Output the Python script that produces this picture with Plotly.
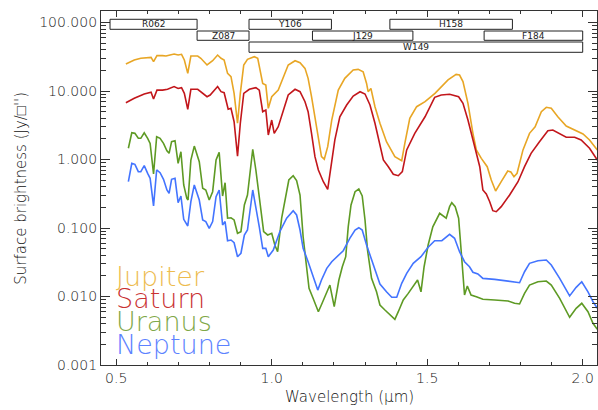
import plotly.graph_objects as go

# ---------------- data ----------------
jup_wl = [0.531, 0.558, 0.579, 0.612, 0.620, 0.631, 0.649, 0.660, 0.686, 0.699, 0.710, 0.719, 0.730,
          0.740, 0.762, 0.772, 0.792, 0.810, 0.826, 0.837, 0.847, 0.858, 0.869, 0.879, 0.890, 0.899,
          0.910, 0.922, 0.944, 0.955, 0.971, 0.981, 0.989, 1.000, 1.021, 1.037, 1.053, 1.075, 1.091,
          1.107, 1.117, 1.128, 1.144, 1.160, 1.169, 1.180, 1.193, 1.214, 1.235, 1.262, 1.278, 1.294,
          1.305, 1.310, 1.319, 1.332, 1.348, 1.369, 1.396, 1.418, 1.428, 1.444, 1.466, 1.493, 1.525,
          1.567, 1.593, 1.604, 1.615, 1.631, 1.647, 1.658, 1.674, 1.693, 1.706, 1.720, 1.738, 1.759,
          1.769, 1.779, 1.789, 1.808, 1.829, 1.847, 1.867, 1.883, 1.899, 1.920, 1.947, 1.974, 2.001,
          2.022, 2.047]
jup_val = [24.8, 28.4, 30.0, 31.0, 26.8, 32.8, 32.8, 32.4, 34.7, 33.5, 34.3, 28.4, 18.1,
           32.4, 32.4, 30.0, 24.0, 27.7, 33.5, 30.0, 28.4, 18.1, 16.2, 9.25, 3.38, 9.25,
           24.0, 29.0, 31.7, 30.0, 12.9, 12.2, 5.59, 8.26, 10.3, 16.2, 24.0, 27.7, 25.9,
           21.4, 15.3, 8.26, 3.01, 1.10, 1.01, 1.54, 3.77, 10.3, 15.3, 20.3, 20.7, 19.1,
           12.9, 9.77, 10.9, 5.90, 3.38, 1.82, 1.10, 0.96, 1.72, 3.99, 5.90, 6.98, 9.25,
           14.5, 17.5, 17.1, 13.7, 6.61, 2.41, 1.38, 1.04, 0.785, 0.502, 0.347, 0.474, 0.679,
           0.657, 0.561, 0.629, 1.38, 2.41, 3.01, 4.99, 5.78, 5.59, 4.21, 3.08, 2.70, 2.36,
           1.93, 1.38]

sat_wl = [0.531, 0.558, 0.590, 0.612, 0.620, 0.631, 0.649, 0.665, 0.686, 0.699, 0.710, 0.719, 0.730,
          0.740, 0.762, 0.772, 0.792, 0.802, 0.826, 0.837, 0.847, 0.860, 0.869, 0.879, 0.890, 0.899,
          0.910, 0.928, 0.949, 0.960, 0.971, 0.981, 0.989, 1.000, 1.008, 1.021, 1.037, 1.053, 1.075,
          1.091, 1.107, 1.117, 1.128, 1.139, 1.150, 1.166, 1.180, 1.193, 1.203, 1.219, 1.241, 1.262,
          1.284, 1.300, 1.316, 1.332, 1.342, 1.359, 1.375, 1.391, 1.407, 1.420, 1.434, 1.460, 1.493,
          1.524, 1.545, 1.572, 1.601, 1.615, 1.631, 1.652, 1.669, 1.679, 1.690, 1.701, 1.711, 1.722,
          1.738, 1.765, 1.792, 1.813, 1.834, 1.861, 1.888, 1.904, 1.926, 1.947, 1.974, 1.995, 2.022,
          2.047]
sat_val = [6.75, 7.82, 9.04, 9.57, 7.64, 10.3, 10.3, 10.6, 11.6, 10.9, 11.2, 9.25, 5.41,
           10.6, 10.6, 9.77, 8.26, 8.74, 11.6, 9.77, 9.44, 5.41, 5.59, 3.56, 1.12, 3.38,
           9.25, 10.6, 11.2, 10.3, 4.99, 5.28, 2.28, 3.77, 2.41, 3.01, 4.99, 8.74, 10.6,
           9.77, 6.98, 4.99, 2.41, 1.10, 0.703, 0.474, 0.367, 0.880, 1.93, 4.21, 6.25, 8.45,
           9.77, 9.04, 6.25, 3.38, 2.15, 0.983, 0.785, 0.608, 0.580, 0.664, 1.38, 2.41, 4.21,
           8.09, 8.74, 8.95, 8.26, 6.61, 3.77, 1.54, 0.785, 0.359, 0.314, 0.242, 0.179, 0.173,
           0.205, 0.303, 0.474, 0.785, 1.23, 1.82, 2.63, 2.70, 2.41, 2.11, 2.11, 1.93, 1.46,
           0.983]

ura_wl = [0.539, 0.550, 0.560, 0.571, 0.579, 0.590, 0.601, 0.609, 0.620, 0.630, 0.641, 0.652, 0.663,
          0.670, 0.678, 0.689, 0.699, 0.708, 0.717, 0.727, 0.731, 0.740, 0.751, 0.767, 0.778, 0.788,
          0.799, 0.810, 0.821, 0.831, 0.842, 0.850, 0.858, 0.869, 0.879, 0.890, 0.901, 0.912, 0.922,
          0.939, 0.949, 0.960, 0.974, 0.987, 1.000, 1.010, 1.019, 1.032, 1.045, 1.055, 1.069, 1.080,
          1.091, 1.101, 1.112, 1.120, 1.133, 1.150, 1.162, 1.177, 1.187, 1.201, 1.216, 1.227, 1.238,
          1.246, 1.255, 1.268, 1.280, 1.291, 1.300, 1.308, 1.321, 1.337, 1.348, 1.364, 1.386, 1.396,
          1.407, 1.423, 1.439, 1.455, 1.469, 1.480, 1.490, 1.503, 1.518, 1.540, 1.561, 1.572, 1.579,
          1.590, 1.601, 1.609, 1.620, 1.629, 1.641, 1.658, 1.679, 1.717, 1.760, 1.781, 1.797, 1.813,
          1.829, 1.856, 1.883, 1.899, 1.926, 1.958, 1.979, 1.997, 2.017, 2.033, 2.047]
ura_val = [1.46, 2.46, 2.41, 2.04, 2.04, 2.46, 2.04, 1.72, 0.614, 2.15, 2.04, 1.72, 1.34,
           1.23, 1.82, 1.88, 0.880, 1.30, 0.425, 0.271, 0.256, 0.983, 1.57, 0.929, 0.380, 0.359,
           0.256, 0.339, 0.983, 1.27, 0.293, 0.458, 0.139, 0.141, 0.131, 0.0837, 0.0883, 0.217, 0.303,
           1.41, 0.703, 0.286, 0.0883, 0.0791, 0.0837, 0.0565, 0.0451, 0.139, 0.303, 0.502, 0.580, 0.491,
           0.303, 0.0746, 0.0272, 0.0132, 0.00942, 0.0060, 0.00796, 0.0117, 0.0147, 0.0071, 0.0174, 0.0272, 0.0381,
           0.104, 0.217, 0.339, 0.371, 0.293, 0.131, 0.0477, 0.0184, 0.0117, 0.0075, 0.00635, 0.00507, 0.00465,
           0.0060, 0.00889, 0.0111, 0.0139, 0.0174, 0.0117, 0.0272, 0.0565, 0.104, 0.164, 0.139, 0.205, 0.234,
           0.205, 0.139, 0.0477, 0.0105, 0.0142, 0.0105, 0.00993, 0.0091, 0.0089, 0.0086, 0.00796, 0.00778, 0.0111,
           0.0147, 0.0164, 0.0168, 0.0147, 0.00942, 0.00497, 0.00673, 0.00796, 0.0060, 0.00406, 0.00332]

nep_wl = [0.539, 0.550, 0.560, 0.571, 0.579, 0.590, 0.601, 0.609, 0.620, 0.630, 0.641, 0.652, 0.663,
          0.670, 0.678, 0.689, 0.699, 0.708, 0.717, 0.730, 0.740, 0.751, 0.767, 0.778, 0.788, 0.799,
          0.810, 0.821, 0.831, 0.842, 0.850, 0.858, 0.869, 0.879, 0.890, 0.901, 0.912, 0.922, 0.939,
          0.949, 0.960, 0.971, 0.981, 0.989, 1.005, 1.026, 1.048, 1.069, 1.080, 1.091, 1.101, 1.117,
          1.133, 1.148, 1.160, 1.177, 1.193, 1.209, 1.230, 1.251, 1.268, 1.280, 1.291, 1.305, 1.326,
          1.348, 1.369, 1.386, 1.402, 1.418, 1.434, 1.455, 1.480, 1.503, 1.524, 1.547, 1.572, 1.588,
          1.604, 1.620, 1.636, 1.647, 1.663, 1.679, 1.717, 1.759, 1.797, 1.813, 1.829, 1.856, 1.883,
          1.899, 1.926, 1.958, 1.979, 1.997, 2.017, 2.033, 2.047]
nep_val = [0.474, 0.880, 0.851, 0.664, 0.664, 0.812, 0.629, 0.532, 0.210, 0.703, 0.642, 0.514, 0.359,
           0.321, 0.514, 0.532, 0.234, 0.293, 0.134, 0.107, 0.242, 0.425, 0.256, 0.131, 0.124, 0.099,
           0.124, 0.286, 0.359, 0.111, 0.124, 0.0653, 0.0668, 0.061, 0.0381, 0.0428, 0.0791, 0.0935, 0.359,
           0.205, 0.104, 0.0505, 0.0505, 0.0381, 0.0477, 0.0883, 0.139, 0.179, 0.155, 0.0935, 0.0505, 0.0322,
           0.0195, 0.0124, 0.0174, 0.0258, 0.0322, 0.0381, 0.0466, 0.0707, 0.0935, 0.101, 0.0935, 0.0565, 0.0288,
           0.0152, 0.0117, 0.00973, 0.00973, 0.0156, 0.0218, 0.0305, 0.0381, 0.0523, 0.0653, 0.0653, 0.0809, 0.0707,
           0.0451, 0.0322, 0.0272, 0.0226, 0.0213, 0.0184, 0.0178, 0.0170, 0.0159, 0.0230, 0.0305, 0.0333, 0.0341,
           0.0288, 0.0184, 0.0102, 0.0136, 0.0164, 0.0117, 0.0084, 0.00673]

planets = ["Jupiter", "Saturn", "Uranus", "Neptune"]
line_colors = ["#E8A625", "#C2161B", "#5E9A24", "#4374FF"]
text_colors = ["#EDBB4E", "#C93232", "#7FA848", "#5C82FF"]

filter_names = ["R062", "Z087", "Y106", "J129", "H158", "F184", "W149"]
filter_lo = [0.480, 0.760, 0.927, 1.131, 1.380, 1.683, 0.927]
filter_hi = [0.760, 0.927, 1.192, 1.454, 1.774, 2.000, 2.000]
filter_row = [0, 1, 0, 1, 0, 1, 2]

ytick_vals = [0.001, 0.01, 0.1, 1, 10, 100]
ytick_text = ["0.001", "0.010", "0.100", "1.000", "10.000", "100.000"]

FONT = "DejaVu Sans"
LIGHT = 200

# ---------------- figure ----------------
fig = go.Figure()
series = [(jup_wl, jup_val), (sat_wl, sat_val), (ura_wl, ura_val), (nep_wl, nep_val)]
for (wl, val), name, col in zip(series, planets, line_colors):
    fig.add_trace(go.Scatter(x=wl, y=val, mode="lines", name=name,
                             line=dict(color=col, width=1.6), showlegend=False))

# filter boxes
row_y = [(0.9483, 0.9766), (0.9172, 0.9435), (0.8833, 0.9124)]
for nm, lo, hi, r in zip(filter_names, filter_lo, filter_hi, filter_row):
    y0, y1 = row_y[r]
    fig.add_shape(type="rect", xref="x", yref="paper", x0=lo, x1=hi, y0=y0, y1=y1,
                  line=dict(color="#222222", width=1), fillcolor="white", layer="above")
    fig.add_annotation(x=(lo + hi) / 2, y=(y0 + y1) / 2, xref="x", yref="paper",
                       text=nm, showarrow=False, font=dict(family=FONT, size=9, color="#222222"),
                       xanchor="center", yanchor="middle", borderpad=0)

# planet labels
label_y = [0.251, 0.187, 0.122, 0.058]
for nm, col, yy in zip(planets, text_colors, label_y):
    fig.add_annotation(x=0.497, y=yy, xref="x", yref="paper", text=nm, showarrow=False,
                       xanchor="left", yanchor="middle", borderpad=0,
                       font=dict(family=FONT, size=27, color=col, weight=LIGHT))

# axis titles
fig.add_annotation(x=-0.162, y=0.5, xref="paper", yref="paper", text="Surface brightness (Jy/\u25a1'')",
                   textangle=-90, showarrow=False, xanchor="center", yanchor="middle",
                   font=dict(family=FONT, size=15, color="#111111", weight=LIGHT))
fig.add_annotation(x=0.5, y=-0.09, xref="paper", yref="paper", text="Wavelength (\u03bcm)",
                   showarrow=False, xanchor="center", yanchor="middle",
                   font=dict(family=FONT, size=15, color="#111111", weight=LIGHT))

minor_y = [m * 10 ** e for e in range(-3, 2) for m in range(2, 10)]

axis_common = dict(showline=True, linecolor="#333333", linewidth=1.2, mirror="allticks",
                   ticks="inside", tickcolor="#333333", showgrid=False, zeroline=False,
                   automargin=False,
                   tickfont=dict(family=FONT, size=14, color="#1a1a1a", weight=LIGHT))

fig.update_xaxes(range=[0.451, 2.046], tickmode="array", tickvals=[0.5, 1.0, 1.5, 2.0],
                 ticktext=["0.5", "1.0", "1.5", "2.0"], ticklen=6, tickwidth=1,
                 minor=dict(ticks="inside", tickvals=[0.6, 0.7, 0.8, 0.9, 1.1, 1.2, 1.3, 1.4,
                                                      1.6, 1.7, 1.8, 1.9],
                            ticklen=3, tickcolor="#333333", showgrid=False),
                 **axis_common)
fig.update_yaxes(type="log", range=[-3, 2.168], tickmode="array", tickvals=ytick_vals,
                 ticktext=ytick_text, ticklen=9, tickwidth=1,
                 minor=dict(ticks="inside", tickvals=minor_y, ticklen=5, tickcolor="#333333",
                            showgrid=False),
                 **axis_common)

fig.update_layout(width=598, height=410, margin=dict(l=101, r=1, t=11, b=45),
                  plot_bgcolor="white", paper_bgcolor="white")

fig.write_html("out.html", config={"displayModeBar": False},
               post_script="document.body.style.margin='0';")
